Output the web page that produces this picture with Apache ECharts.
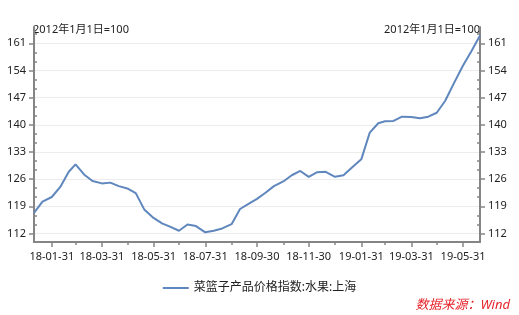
<!DOCTYPE html>
<html><head><meta charset="utf-8">
<script src="https://cdn.jsdelivr.net/npm/echarts@6/dist/echarts.min.js"></script>
<style>html,body{margin:0;padding:0;background:#fff}#c{width:519px;height:315px}</style>
</head><body><div id="c"></div>
<script>
var dates = ['2018-01-10','2018-01-20','2018-01-31','2018-02-10','2018-02-20','2018-02-28','2018-03-10','2018-03-20','2018-03-31','2018-04-10','2018-04-20','2018-04-30','2018-05-10','2018-05-20','2018-05-31','2018-06-10','2018-06-20','2018-06-30','2018-07-10','2018-07-20','2018-07-31','2018-08-10','2018-08-20','2018-08-31','2018-09-10','2018-09-20','2018-09-30','2018-10-10','2018-10-20','2018-10-31','2018-11-10','2018-11-20','2018-11-30','2018-12-10','2018-12-20','2018-12-31','2019-01-10','2019-01-20','2019-01-31','2019-02-10','2019-02-20','2019-02-28','2019-03-10','2019-03-20','2019-03-31','2019-04-10','2019-04-20','2019-04-30','2019-05-10','2019-05-20','2019-05-31','2019-06-10','2019-06-20'];
var values = [117.3,120.2,121.4,124.0,127.9,129.8,127.2,125.5,124.9,125.1,124.2,123.6,122.4,118.2,116.0,114.6,113.7,112.7,114.3,113.9,112.3,112.7,113.3,114.4,118.3,119.6,120.9,122.5,124.2,125.4,127.0,128.1,126.6,127.8,127.9,126.6,127.0,129.0,131.1,138.0,140.4,140.9,141.0,142.1,142.0,141.7,142.1,143.1,146.2,150.6,155.3,159.0,163.0];
var xMajorTicks = ['2018-01-31','2018-03-31','2018-05-31','2018-07-31','2018-09-30','2018-11-30','2019-01-31','2019-03-31','2019-05-31'];
var xMinorTicks = ['2018-02-28','2018-04-30','2018-06-30','2018-08-31','2018-10-31','2018-12-31','2019-02-28','2019-04-30'];
var yMajorTicks = [112,119,126,133,140,147,154,161];
var yMinorTicks = [114.333,116.667,121.333,123.667,128.333,130.667,135.333,137.667,142.333,144.667,149.333,151.667,156.333,158.667,163.333];
var seriesName = '菜篮子产品价格指数:水果:上海';
var axisName = '2012年1月1日=100';
var sourceText = '数据来源：Wind';

function ts(s){var p=s.split('-');return Date.UTC(+p[0],+p[1]-1,+p[2]);}
function fmt(v){var d=new Date(v);var y=String(d.getUTCFullYear()).slice(2);var m=('0'+(d.getUTCMonth()+1)).slice(-2);var dd=('0'+d.getUTCDate()).slice(-2);return y+'-'+m+'-'+dd;}
var FONT = "'Noto Sans','Noto Sans CJK SC',sans-serif";
var AX = '#858585';
var xMin = ts(dates[0]), xMax = ts(dates[dates.length-1]);
var yMin = 109.8, yMax = 165.2;
var data = dates.map(function(d,i){return [ts(d), values[i]];});

function xAxisBase(extra){
  var o = {type:'value', min:xMin, max:xMax, position:'bottom', scale:true,
    axisLine:{show:true, lineStyle:{color:AX, width:2}},
    splitLine:{show:false}};
  for (var k in extra) o[k]=extra[k];
  return o;
}
function yAxisBase(pos, extra){
  var o = {type:'value', min:yMin, max:yMax, position:pos,
    axisLine:{show:true, lineStyle:{color:AX, width:2}},
    splitLine:{show:false}};
  for (var k in extra) o[k]=extra[k];
  return o;
}
var chart = echarts.init(document.getElementById('c'), null, {renderer:'canvas'});
chart.setOption({
  animation:false,
  backgroundColor:'#fff',
  grid:{left:34, right:39, top:27, bottom:73, containLabel:false},
  xAxis:[
    xAxisBase({
      axisTick:{show:true, length:5, customValues:xMajorTicks.map(ts), lineStyle:{color:AX, width:1.5}},
      axisLabel:{show:true, customValues:xMajorTicks.map(ts), formatter:fmt, margin:9, color:'#222', fontSize:11, fontFamily:FONT}
    }),
    xAxisBase({
      axisLine:{show:false},
      axisTick:{show:true, length:3, customValues:xMinorTicks.map(ts), lineStyle:{color:AX, width:1.5}},
      axisLabel:{show:false}
    })
  ],
  yAxis:[
    yAxisBase('left', {
      name:axisName, nameLocation:'end', nameGap:-3,
      nameTextStyle:{align:'left', verticalAlign:'middle', color:'#222', fontSize:11, fontFamily:FONT, padding:[0,0,0,-1]},
      axisTick:{show:true, length:5, customValues:yMajorTicks, lineStyle:{color:AX, width:1.5}},
      axisLabel:{show:true, customValues:yMajorTicks, margin:8, color:'#222', fontSize:11, fontFamily:FONT},
      splitLine:{show:true, lineStyle:{color:'#ececec', width:1}}
    }),
    yAxisBase('left', {
      axisLine:{show:false},
      axisTick:{show:true, inside:true, length:3, customValues:yMinorTicks, lineStyle:{color:AX, width:1.5}},
      axisLabel:{show:false}
    }),
    yAxisBase('right', {
      name:axisName, nameLocation:'end', nameGap:-3,
      nameTextStyle:{align:'right', verticalAlign:'middle', color:'#222', fontSize:11, fontFamily:FONT},
      axisTick:{show:true, length:5, customValues:yMajorTicks, lineStyle:{color:AX, width:1.5}},
      axisLabel:{show:true, customValues:yMajorTicks, margin:8, color:'#222', fontSize:11, fontFamily:FONT}
    }),
    yAxisBase('right', {
      axisLine:{show:false},
      axisTick:{show:true, inside:true, length:3, customValues:yMinorTicks, lineStyle:{color:AX, width:1.5}},
      axisLabel:{show:false}
    })
  ],
  legend:{show:true, left:'center', top:277, icon:'rect', itemWidth:26, itemHeight:2, itemGap:6,
    textStyle:{color:'#222', fontSize:12, fontFamily:FONT}, data:[seriesName]},
  series:[{
    name:seriesName, type:'line', xAxisIndex:0, yAxisIndex:0, data:data,
    symbol:'none', smooth:false,
    lineStyle:{color:'#5f87bd', width:2},
    itemStyle:{color:'#5f87bd'}
  }],
  graphic:[{type:'text', right:9, top:299,
    style:{text:sourceText, fill:'#e6242b', font:"italic 13px 'Noto Sans','Noto Sans CJK SC',sans-serif"}}]
});
</script></body></html>
